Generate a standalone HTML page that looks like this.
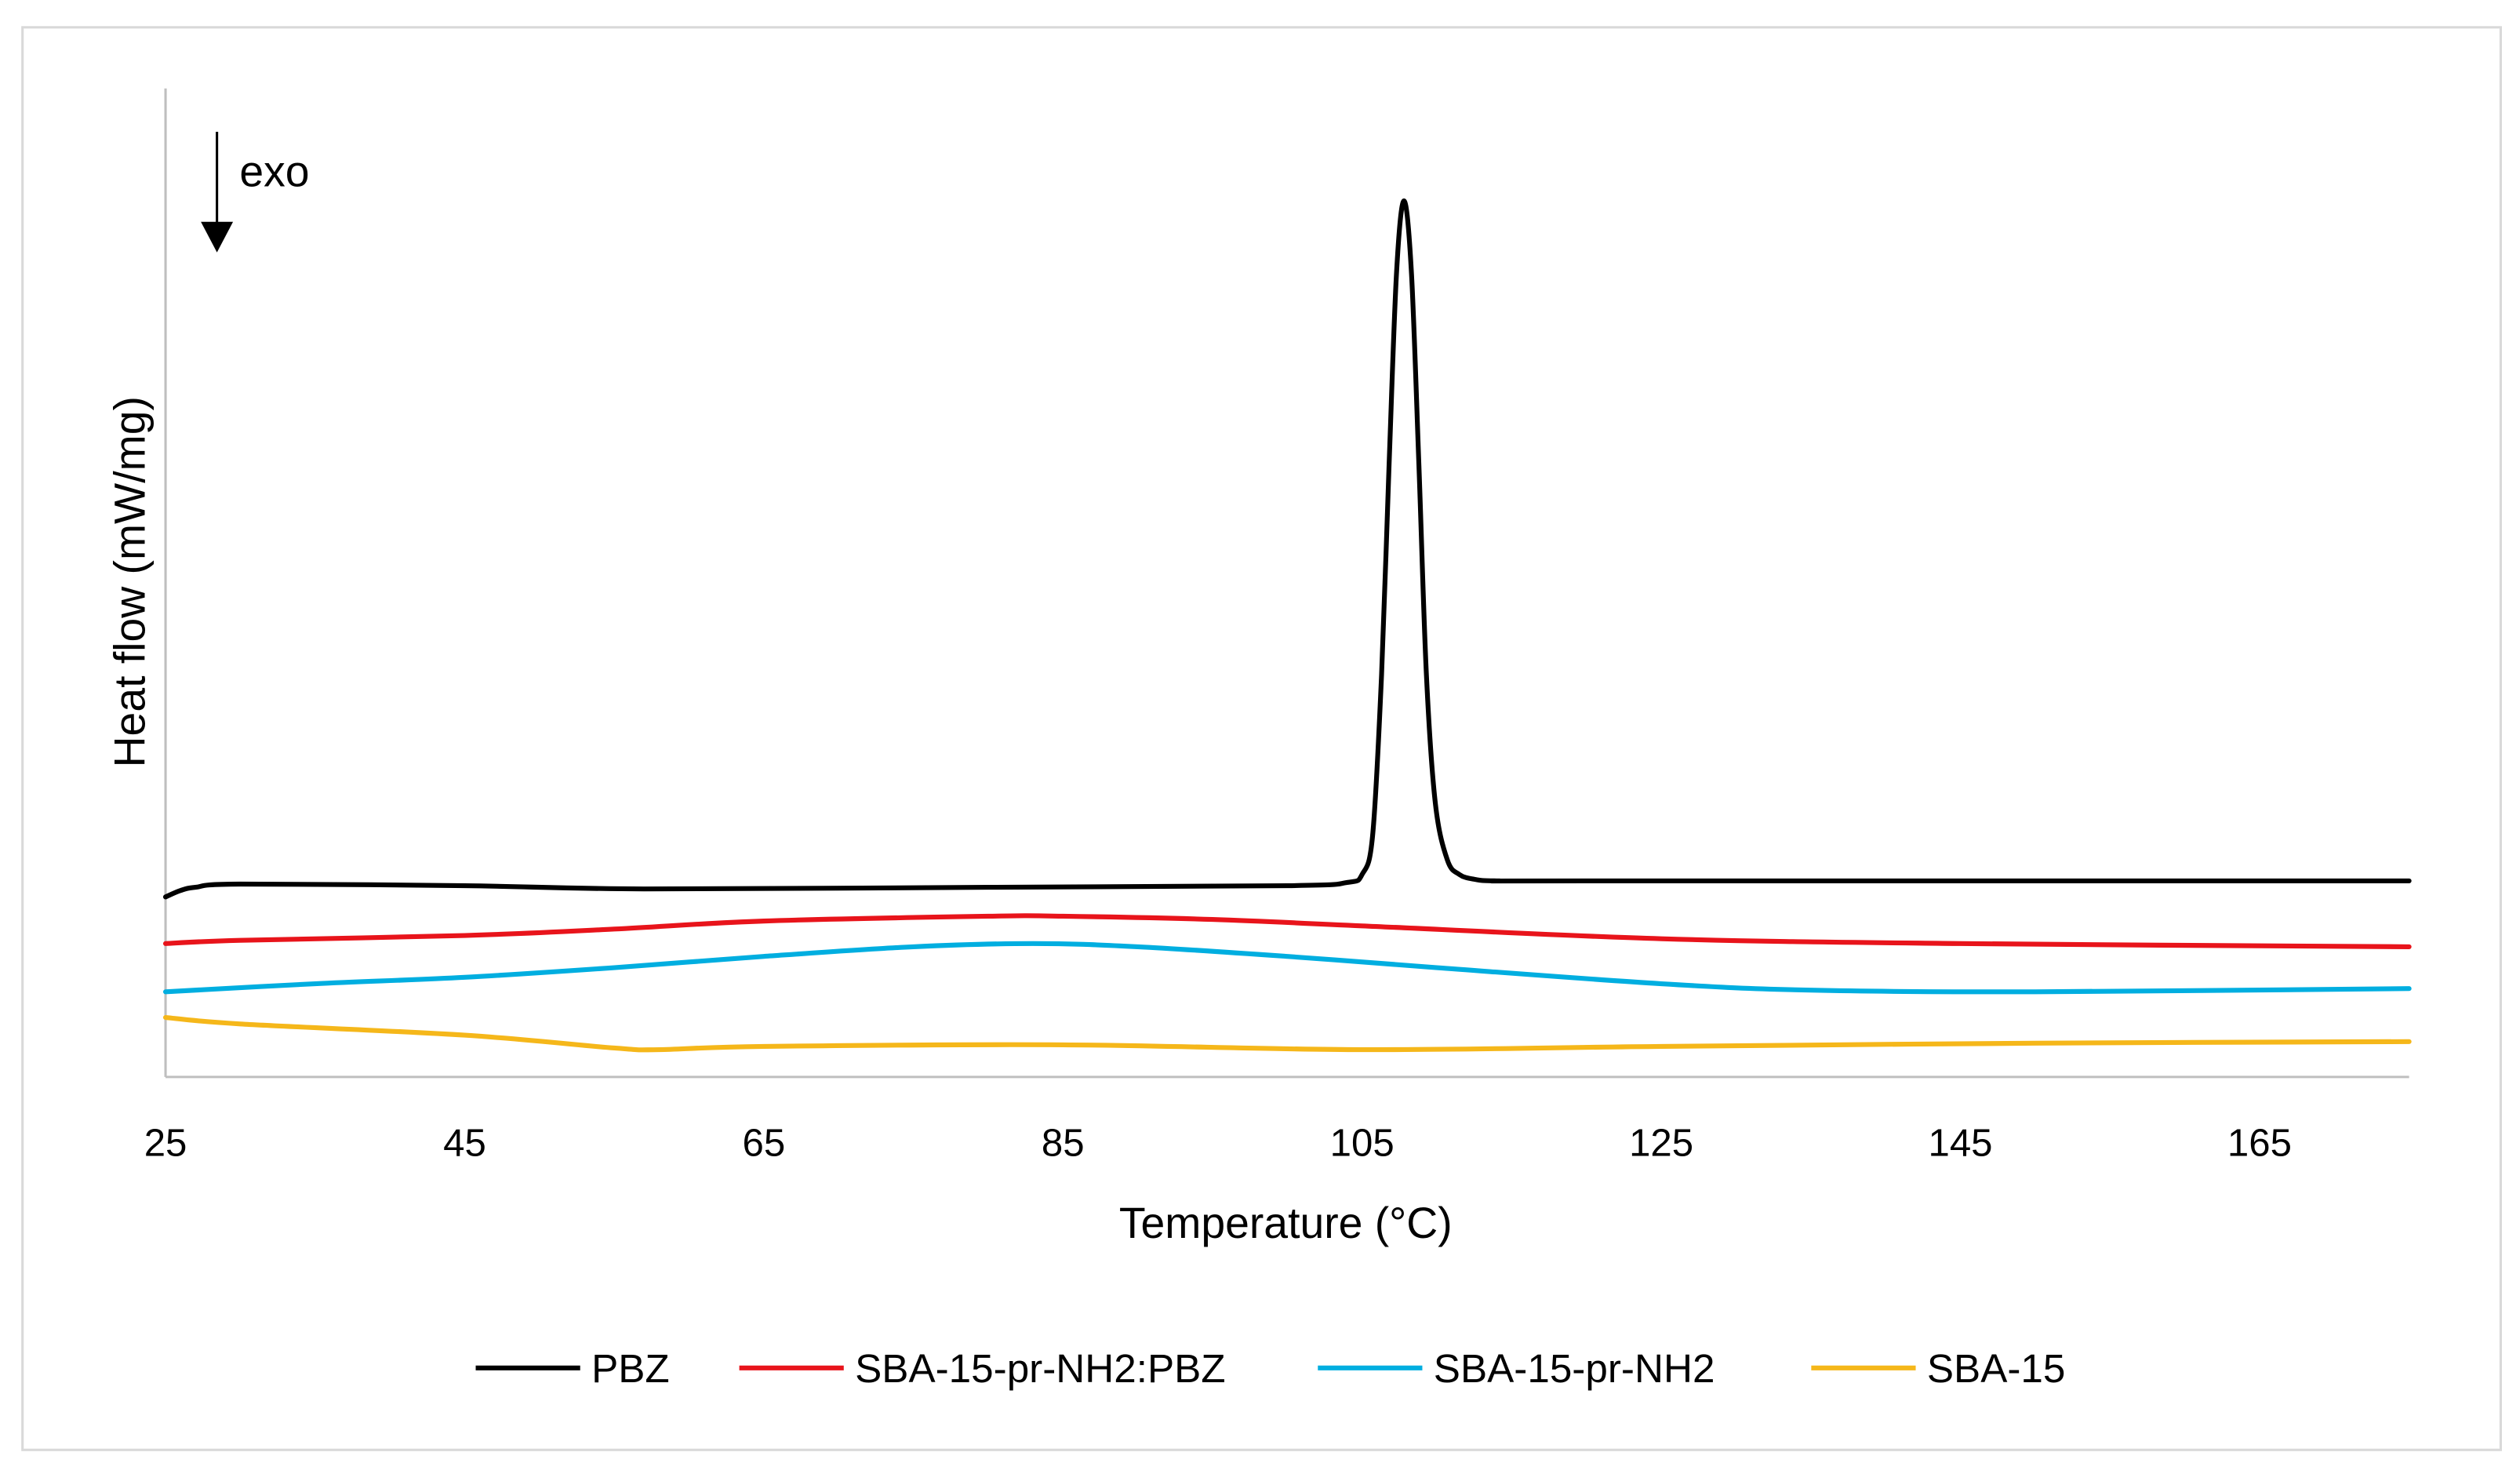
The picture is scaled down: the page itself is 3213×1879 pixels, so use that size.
<!DOCTYPE html>
<html><head><meta charset="utf-8"><style>
html,body{margin:0;padding:0;background:#fff}
svg{display:block}
text{font-family:"Liberation Sans",sans-serif;fill:#000}
</style></head><body>
<svg id="chart" width="3213" height="1879" viewBox="0 0 1568 917" preserveAspectRatio="none" xmlns="http://www.w3.org/2000/svg">
<rect x="14" y="17" width="1542" height="885" fill="#fff" stroke="#d9d9d9" stroke-width="1.5"/>
<g id="plot"></g>
<text x="800" y="770" font-size="27" text-anchor="middle">Temperature (°C)</text>
<text transform="translate(90,362) rotate(-90)" font-size="27" text-anchor="middle">Heat flow (mW/mg)</text>
<g>
<line x1="135" y1="82" x2="135" y2="142" stroke="#000" stroke-width="1.5"/>
<polygon points="125,138 145,138 135,157" fill="#000"/>
<text x="149" y="116" font-size="27">exo</text>
</g>
<g id="legend"></g>
</svg>
<script>
const categoriesX = [25,45,65,85,105,125,145,165];
const pbzT = [25,26,27,30,45,57,80,100,104,105,105.7,106.3,106.8,107.3,107.8,108.3,108.8,109.3,109.9,110.7,111.5,112.5,114,120,175];
const pbzV = [112,116,118,120,119,117,118,119,121,126,150,250,380,500,545,500,380,250,170,135,126,123,122,122,122];
const redT = [25,30,45,55,65,80,85,95,105,125,145,175];
const redV = [83,85,88,92,97,100,100,98,94,86,83,81];
const cyanT = [25,35,45,55,65,75,83,90,100,110,125,135,150,175];
const cyanV = [53,58,62,68,75,81,83,81,75,68,58,54,53,55];
const yelT = [25,30,45,55,58,65,85,105,125,150,175];
const yelV = [37,33,26,18,17,19,20,17,19,21,22];
const seriesNames = ["PBZ","SBA-15-pr-NH2:PBZ","SBA-15-pr-NH2","SBA-15"];
const seriesColors = ["#000000","#e8141b","#00aee0","#f5b71a"];

const X0=103,X1=1499,Y0=670,Y1=55;
const xMin=25,xMax=175,yMin=0,yMax=615;
const xs=t=>X0+(t-xMin)/(xMax-xMin)*(X1-X0);
const ys=v=>Y0-(v-yMin)/(yMax-yMin)*(Y0-Y1);
const NS="http://www.w3.org/2000/svg";
const plot=document.getElementById('plot');
function mk(tag,attrs,parent){const e=document.createElementNS(NS,tag);for(const k in attrs)e.setAttribute(k,attrs[k]);parent.appendChild(e);return e;}

const ya=mk('line',{x1:X0,y1:Y1,x2:X0,y2:Y0,stroke:'#bfbfbf','stroke-width':1.5},plot);


const xa=mk('line',{x1:X0,y1:Y0,x2:X1,y2:Y0,stroke:'#bfbfbf','stroke-width':1.5},plot);


categoriesX.forEach(c=>{
  const t=mk('text',{x:xs(c),y:719,'font-size':24,'text-anchor':'middle'},plot);
  t.textContent=c;
  
  
});
function smoothPath(T,V){
  const p=T.map((t,i)=>[xs(t),ys(V[i])]);
  let d='M'+p[0][0]+','+p[0][1];
  for(let i=0;i<p.length-1;i++){
    const a=p[i-1]||p[i],b=p[i],c=p[i+1],e=p[i+2]||c;
    const k=1/6;
    d+=' C'+(b[0]+(c[0]-a[0])*k)+','+(b[1]+(c[1]-a[1])*k)+' '+(c[0]-(e[0]-b[0])*k)+','+(c[1]-(e[1]-b[1])*k)+' '+c[0]+','+c[1];
  }
  return d;
}
const allT=[pbzT,redT,cyanT,yelT],allV=[pbzV,redV,cyanV,yelV];
const seriesKeys=['pbz','sba-15-pr-nh2-pbz','sba-15-pr-nh2','sba-15'];
for(let s=3;s>=0;s--){
  const path=mk('path',{d:smoothPath(allT[s],allV[s]),fill:'none',stroke:seriesColors[s],'stroke-width':3,'stroke-linejoin':'round','stroke-linecap':'round'},plot);
  
  
}
const legend=document.getElementById('legend');
const lx=[296,460,820,1127];
seriesNames.forEach((n,i)=>{
  const g=mk('g',{},legend);
  
  
  mk('line',{x1:lx[i],y1:851,x2:lx[i]+65,y2:851,stroke:seriesColors[i],'stroke-width':3},g);
  const t=mk('text',{x:lx[i]+72,y:860,'font-size':25},g);
  t.textContent=n;
});
</script>
</body></html>
